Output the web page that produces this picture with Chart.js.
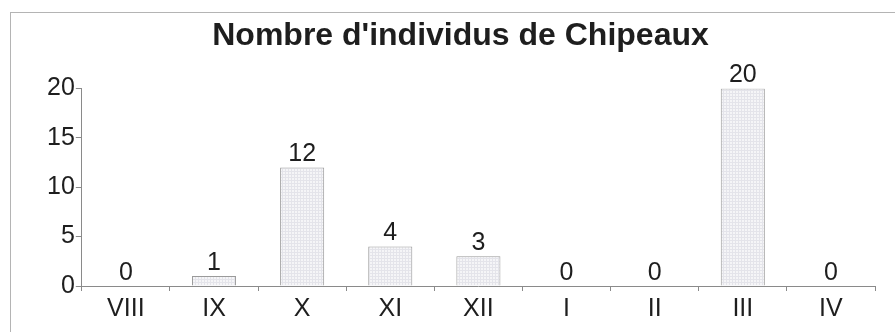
<!DOCTYPE html>
<html>
<head>
<meta charset="utf-8">
<script src="https://cdn.jsdelivr.net/npm/chart.js@4"></script>
<style>
  html, body { margin: 0; padding: 0; background: #fff; }
  #wrap { position: relative; width: 895px; height: 332px; overflow: hidden; }
  #frame { position: absolute; left: 10px; top: 12px; width: 900px; height: 340px;
           border-left: 1px solid #b4b4b4; border-top: 1px solid #b4b4b4; }
  #my-chart { position: absolute; left: 0; top: 0; }
</style>
</head>
<body>
<div id="wrap">
  <div id="frame"></div>
  <canvas id="my-chart" width="895" height="332"></canvas>
</div>
<script>
const months = ["VIII", "IX", "X", "XI", "XII", "I", "II", "III", "IV"];
const counts = [0, 1, 12, 4, 3, 0, 0, 20, 0];
const yTicks = [0, 5, 10, 15, 20];

const textColor = "#1e1e1e";
const axisColor = "#8a8a8a";
const fontFamily = "'Liberation Sans', Arial, sans-serif";

// light dotted fill like the scanned bars
const makePattern = () => {
  const p = document.createElement("canvas");
  p.width = 3;
  p.height = 3;
  const pc = p.getContext("2d");
  pc.fillStyle = "#f5f5f7";
  pc.fillRect(0, 0, 3, 3);
  pc.fillStyle = "#e4e4ea";
  pc.fillRect(0, 0, 3, 1);
  pc.fillRect(0, 0, 1, 3);
  return pc.createPattern(p, "repeat");
};

const valueLabels = {
  id: "valueLabels",
  afterDatasetsDraw(chart) {
    const ctx = chart.ctx;
    const meta = chart.getDatasetMeta(0);
    ctx.save();
    ctx.font = "25px " + fontFamily;
    ctx.fillStyle = textColor;
    ctx.textAlign = "center";
    ctx.textBaseline = "alphabetic";
    meta.data.forEach((bar, i) => {
      ctx.fillText(String(counts[i]), bar.x, bar.y - 6);
    });
    ctx.restore();
  },
};

const ctx = document.getElementById("my-chart").getContext("2d");

const chart = new Chart(ctx, {
  type: "bar",
  data: {
    labels: months,
    datasets: [
      {
        label: "Chipeaux",
        data: counts,
        backgroundColor: makePattern(),
        borderColor: "#9a9a9a",
        borderWidth: 1,
        borderSkipped: "bottom",
        categoryPercentage: 1,
        barPercentage: 0.5,
      },
    ],
  },
  options: {
    responsive: false,
    animation: false,
    layout: { padding: { left: 46, right: 20, top: 0, bottom: 5 } },
    plugins: {
      legend: { display: false },
      tooltip: { enabled: false },
      title: {
        display: true,
        text: "Nombre d'individus de Chipeaux",
        color: textColor,
        font: { family: fontFamily, size: 32, weight: "bold" },
        padding: { top: 17, bottom: 33 },
      },
    },
    scales: {
      x: {
        grid: { display: true, drawOnChartArea: false, color: axisColor, tickLength: 5 },
        border: { display: true, color: axisColor },
        ticks: { color: textColor, font: { family: fontFamily, size: 25 }, padding: 3 },
      },
      y: {
        min: 0,
        max: 20,
        afterBuildTicks: (axis) => {
          axis.ticks = yTicks.map((v) => ({ value: v }));
        },
        grid: { display: true, drawOnChartArea: false, color: axisColor, tickLength: 6 },
        border: { display: true, color: axisColor },
        ticks: { color: textColor, font: { family: fontFamily, size: 25 }, padding: 1 },
      },
    },
  },
  plugins: [valueLabels],
});
</script>
</body>
</html>
